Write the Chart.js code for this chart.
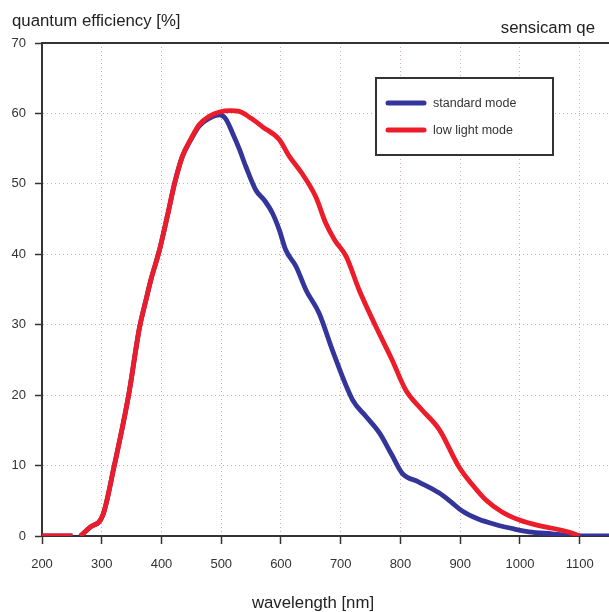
<!DOCTYPE html>
<html>
<head>
<meta charset="utf-8">
<script src="https://cdn.jsdelivr.net/npm/chart.js@4/dist/chart.umd.min.js"></script>
<style>
  html, body { margin: 0; padding: 0; background: #fff; }
  canvas { display: block; }
</style>
</head>
<body>
<canvas id="c" width="609" height="612"></canvas>
<script>
// ---- data ----
const seriesLabels = ['standard mode', 'low light mode'];

const wlStandard = [200,251,258,264,280,302,321,345,363,374,383,396,410,422,435,450,463,480,497,507,519,530,541,558,572,586,597,608,625,642,664,686,720,742,765,785,803,830,865,885,904,930,960,990,1015,1054,1080,1100,1149];
const qeStandard = [0,0,null,0,1.2,3,10,20,29.5,33.5,36.6,40.4,45.5,50.1,53.9,56.4,58.2,59.3,59.8,59.3,57.2,55,52.5,49.1,47.7,45.8,43.5,40.6,38.3,34.9,31.6,26.4,19.3,17,14.6,11.6,8.9,7.7,6.1,4.8,3.5,2.4,1.6,1.0,0.6,0.3,0.1,0,0];

const wlLowLight = [200,251,258,264,280,302,321,345,363,374,383,396,410,422,435,450,463,480,497,515,530,550,569,597,614,635,658,675,690,709,731,759,786,809,835,865,898,920,943,970,998,1030,1054,1080,1100];
const qeLowLight = [0,0,null,0,1.2,3,10,20,29.5,33.5,36.6,40.4,45.5,50.1,53.9,56.5,58.4,59.6,60.2,60.4,60.3,59.3,58.1,56.3,53.9,51.5,48.2,44.4,42,39.7,34.9,29.7,25,20.7,18,15.1,9.8,7.3,5.1,3.4,2.3,1.5,1.1,0.6,0];

const xTickValues = [200,300,400,500,600,700,800,900,1000,1100];
const yTickValues = [0,10,20,30,40,50,60,70];

const titleY = 'quantum efficiency [%]';
const titleX = 'wavelength [nm]';
const titleModel = 'sensicam qe';

// ---- styles ----
const BLUE = '#34359a';
const RED = '#ec1c2a';
const AXIS = '#333333';
const GRID = '#c8b2a8';
const FONT = '"Liberation Sans", Arial, Helvetica, sans-serif';

function toPoints(xs, ys) { return xs.map((x, i) => ({ x: x, y: ys[i] })); }

const bgPlugin = {
  id: 'bg',
  beforeDraw(chart) {
    const ctx = chart.ctx;
    ctx.save();
    ctx.fillStyle = '#ffffff';
    ctx.fillRect(0, 0, chart.width, chart.height);
    ctx.restore();
  }
};

const decorPlugin = {
  id: 'decor',
  beforeDatasetsDraw(chart) {
    const { ctx, chartArea: a } = chart;
    ctx.save();
    ctx.strokeStyle = AXIS;
    ctx.lineWidth = 2;
    ctx.beginPath();
    ctx.moveTo(a.left - 1, a.top);
    ctx.lineTo(a.right, a.top);
    ctx.stroke();
    ctx.restore();
  },
  afterDraw(chart) {
    const { ctx } = chart;
    ctx.save();
    ctx.fillStyle = '#222';
    ctx.font = '16.8px ' + FONT;
    ctx.textBaseline = 'alphabetic';
    ctx.textAlign = 'left';
    ctx.fillText(titleY, 12, 26);
    ctx.textAlign = 'right';
    ctx.fillText(titleModel, 595, 33);
    ctx.textAlign = 'center';
    ctx.fillText(titleX, 313, 608);

    // legend box
    const bx = 376, by = 78, bw = 177, bh = 77;
    ctx.fillStyle = '#fff';
    ctx.fillRect(bx, by, bw, bh);
    ctx.strokeStyle = AXIS;
    ctx.lineWidth = 2;
    ctx.strokeRect(bx, by, bw, bh);
    const order = [1, 0]; // standard mode (blue) first, then low light (red)
    const rows = [103, 130];
    ctx.font = '12.5px ' + FONT;
    ctx.textAlign = 'left';
    ctx.textBaseline = 'middle';
    order.forEach((di, r) => {
      const ds = chart.data.datasets[di];
      ctx.strokeStyle = ds.borderColor;
      ctx.lineWidth = 5;
      ctx.lineCap = 'round';
      ctx.beginPath();
      ctx.moveTo(388, rows[r]);
      ctx.lineTo(424, rows[r]);
      ctx.stroke();
      ctx.fillStyle = '#333';
      ctx.fillText(ds.label, 433, rows[r] + 1);
    });
    ctx.restore();
  }
};

new Chart(document.getElementById('c'), {
  type: 'line',
  data: {
    datasets: [
      {
        label: seriesLabels[1],
        data: toPoints(wlLowLight, qeLowLight),
        borderColor: RED,
        backgroundColor: RED,
        borderWidth: 4.8,
        pointRadius: 0,
        cubicInterpolationMode: 'monotone',
        spanGaps: false,
        fill: false
      },
      {
        label: seriesLabels[0],
        data: toPoints(wlStandard, qeStandard),
        borderColor: BLUE,
        backgroundColor: BLUE,
        borderWidth: 4.8,
        pointRadius: 0,
        cubicInterpolationMode: 'monotone',
        spanGaps: false,
        fill: false
      }
    ]
  },
  options: {
    responsive: false,
    animation: false,
    devicePixelRatio: 1,
    layout: { padding: { top: 43, left: 0, right: 0, bottom: 0 } },
    plugins: {
      legend: { display: false },
      tooltip: { enabled: false },
      title: { display: false }
    },
    scales: {
      x: {
        type: 'linear',
        min: 200,
        max: 1149,
        afterFit(scale) { scale.height = 76; },
        afterBuildTicks(scale) { scale.ticks = xTickValues.map(v => ({ value: v })); },
        ticks: {
          color: '#333',
          font: { family: FONT, size: 13 },
          padding: 13,
          maxRotation: 0,
          autoSkip: false,
          callback: (v) => String(v)
        },
        grid: {
          color: GRID,
          lineWidth: 1,
          drawTicks: true,
          tickLength: 8,
          tickColor: AXIS,
          tickWidth: 1.5
        },
        border: { display: true, color: AXIS, width: 2, dash: [1, 3] }
      },
      y: {
        type: 'linear',
        min: 0,
        max: 70,
        afterFit(scale) { scale.width = 42; },
        afterBuildTicks(scale) { scale.ticks = yTickValues.map(v => ({ value: v })); },
        ticks: {
          color: '#333',
          font: { family: FONT, size: 13 },
          padding: 9,
          autoSkip: false,
          callback: (v) => String(v)
        },
        grid: {
          color: GRID,
          lineWidth: 1,
          drawTicks: true,
          tickLength: 7,
          tickColor: AXIS,
          tickWidth: 1.5
        },
        border: { display: true, color: AXIS, width: 2, dash: [1, 3] }
      }
    }
  },
  plugins: [bgPlugin, decorPlugin]
});
</script>
</body>
</html>
